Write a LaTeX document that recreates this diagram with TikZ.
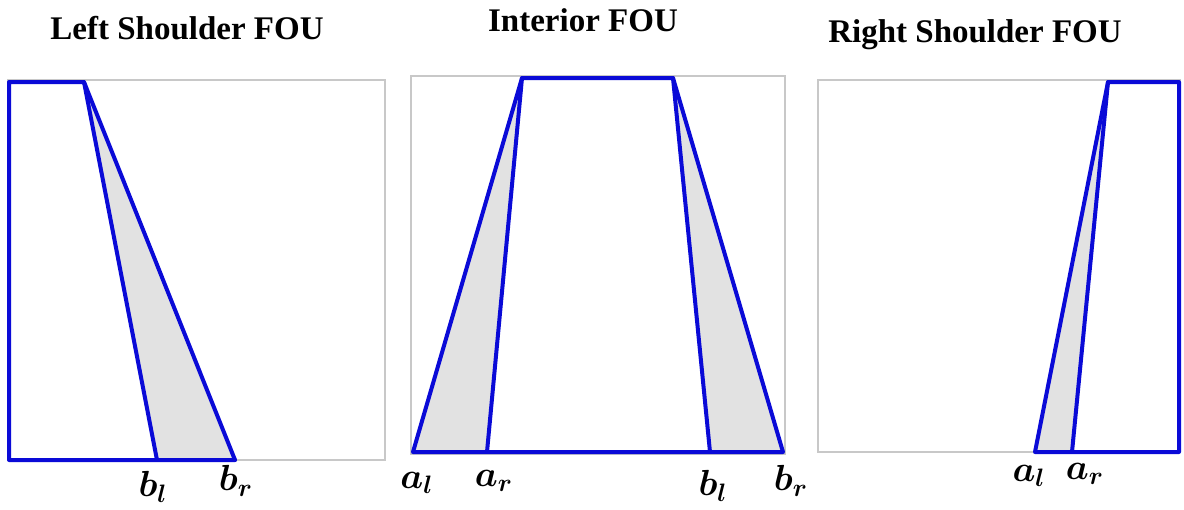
\documentclass[tikz,border=0pt]{standalone}
\usepackage{amsmath}
\usepackage{bm}
\usepackage{fontspec}
\setmainfont{Liberation Serif}
\definecolor{foublue}{RGB}{10,10,215}
\definecolor{foufill}{RGB}{226,226,226}
\definecolor{framegray}{RGB}{200,200,200}
\newcommand{\fouvar}[2]{\scalebox{2.1}{\LARGE$\bm{#1}_{\bm{#2}}$}}
\tikzset{
    frame/.style={draw=framegray,line width=1.5pt},
    mf/.style={draw=foublue,line width=4pt,line join=round,line cap=round},
    fou/.style={fill=foufill},
    ttl/.style={font=\fontsize{33}{36}\selectfont\bfseries},
    lbl/.style={inner sep=0pt}
}
\begin{document}
\begin{tikzpicture}[x=1pt,y=-1pt]
    \useasboundingbox (0,0) rectangle (1184,509);
    % left shoulder
    \fill[fou] (84,82) -- (157,460) -- (235,460) -- cycle;
    \draw[frame] (8,80) rectangle (385,460);
    \draw[mf] (235,460) -- (9,460) -- (9,82) -- (84,82) -- (157,460);
    \draw[mf] (84,82) -- (235,460);
    \node[ttl] (tl) at (187,28) {Left Shoulder FOU};
    \node[lbl] (bl1) at (153,487) {\fouvar{b}{l}};
    \node[lbl] (br1) at (236,481) {\fouvar{b}{r}};
    % interior
    \fill[fou] (522,78) -- (413,452) -- (487,452) -- cycle;
    \fill[fou] (673,78) -- (710,452) -- (783,452) -- cycle;
    \draw[frame] (411,76) rectangle (785,454);
    \draw[mf] (413,452) -- (522,78) -- (673,78) -- (783,452) -- cycle;
    \draw[mf] (522,78) -- (487,452);
    \draw[mf] (673,78) -- (710,452);
    \node[ttl] (ti) at (583,20) {Interior FOU};
    \node[lbl] (al2) at (417,483) {\fouvar{a}{l}};
    \node[lbl] (ar2) at (494,481) {\fouvar{a}{r}};
    \node[lbl] (bl2) at (713,486) {\fouvar{b}{l}};
    \node[lbl] (br2) at (791,481) {\fouvar{b}{r}};
    % right shoulder
    \fill[fou] (1108,82) -- (1035,452) -- (1072,452) -- cycle;
    \draw[frame] (818,80) rectangle (1180,452);
    \draw[mf] (1035,452) -- (1179,452) -- (1179,82) -- (1108,82) -- cycle;
    \draw[mf] (1108,82) -- (1072,452);
    \node[ttl] (tr) at (975,35) {Right Shoulder FOU};
    \node[lbl] (al3) at (1029,476) {\fouvar{a}{l}};
    \node[lbl] (ar3) at (1085,474) {\fouvar{a}{r}};
\end{tikzpicture}
\end{document}
